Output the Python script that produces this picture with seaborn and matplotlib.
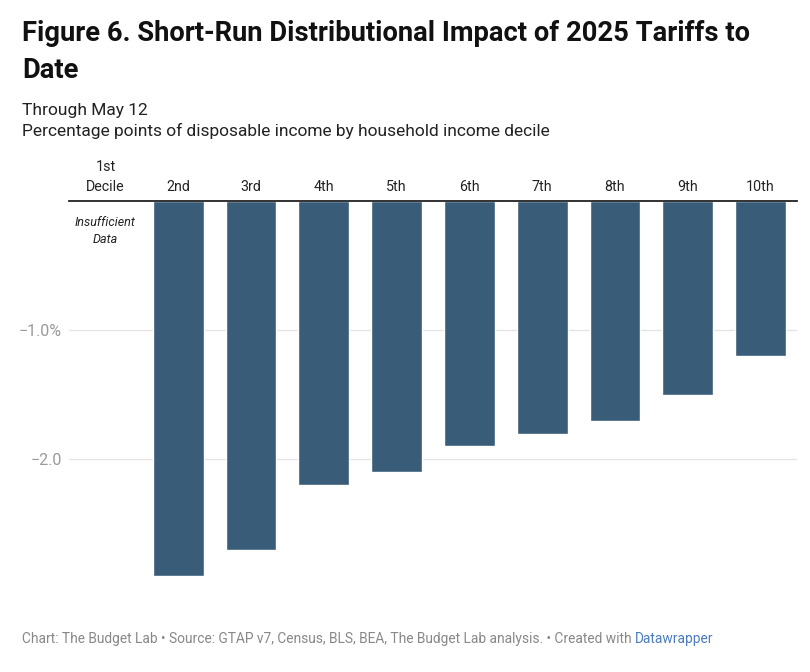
import matplotlib
matplotlib.use("Agg")
import matplotlib.pyplot as plt
import seaborn as sns
import numpy as np
import pandas as pd

categories = ["1st\nDecile", "2nd", "3rd", "4th", "5th", "6th", "7th", "8th", "9th", "10th"]
values = [np.nan, -2.9, -2.7, -2.2, -2.1, -1.9, -1.8, -1.7, -1.5, -1.2]
ytick_values = [-1.0, -2.0]
ytick_labels = ["\u22121.0%", "\u22122.0"]

title = "Figure 6. Short-Run Distributional Impact of 2025 Tariffs to\nDate"
subtitle1 = "Through May 12"
subtitle2 = "Percentage points of disposable income by household income decile"
footer = "Chart: The Budget Lab \u2022 Source: GTAP v7, Census, BLS, BEA, The Budget Lab analysis. \u2022 Created with "
footer_link = "Datawrapper"

sns.set_theme(style="white")
plt.rcParams["font.family"] = ["Roboto", "DejaVu Sans"]

df = pd.DataFrame({"decile": categories, "value": values})

fig = plt.figure(figsize=(8.1, 6.72), dpi=100)
ax = fig.add_axes([69/810, 1 - 588.5/672, (797-69)/810, (588.5-201)/672])

sns.barplot(data=df, x="decile", y="value", order=categories, color="#395d78",
            saturation=1, width=0.70, ax=ax, errorbar=None)

ax.set_ylim(-3.0, 0)
ax.set_xlim(-0.5, len(categories) - 0.5)
ax.set_xlabel("")
ax.set_ylabel("")
for s in ["left", "right", "bottom"]:
    ax.spines[s].set_visible(False)
ax.spines["top"].set_visible(True)
ax.spines["top"].set_color("#222222")
ax.spines["top"].set_linewidth(1.3)

ax.xaxis.tick_top()
ax.tick_params(axis="x", length=0, pad=5, labelsize=10.3, colors="#222222")
ax.set_yticks(ytick_values)
ax.set_yticklabels(ytick_labels)
ax.tick_params(axis="y", length=0, pad=5, labelsize=11.5, labelcolor="#9a9a9a")
for t in ax.get_xticklabels():
    t.set_linespacing(1.55)
ax.yaxis.grid(True, color="#e3e3e3", linewidth=0.9)
ax.set_axisbelow(True)

ax.text(0, -0.23, "Insufficient\nData", ha="center", va="center", fontsize=9.0,
        style="italic", color="#222222", linespacing=1.4)

fig.text(22/810, 1 - 52/672, title, fontsize=19.7, fontweight="bold", color="#111111",
         va="center", ha="left", linespacing=1.45)
fig.text(22/810, 1 - 110/672, subtitle1, fontsize=12.5, color="#222222", va="center")
fig.text(22/810, 1 - 131/672, subtitle2, fontsize=12.5, color="#222222", va="center")
t1 = fig.text(22/810, 1 - 639/672, footer, fontsize=9.9, color="#888888", va="center")
fig.canvas.draw()
bb = t1.get_window_extent()
fig.text(bb.x1 / 810, 1 - 639/672, footer_link, fontsize=9.9, color="#4a7cc0", va="center")

fig.savefig("out.png", dpi=100, facecolor="white")
